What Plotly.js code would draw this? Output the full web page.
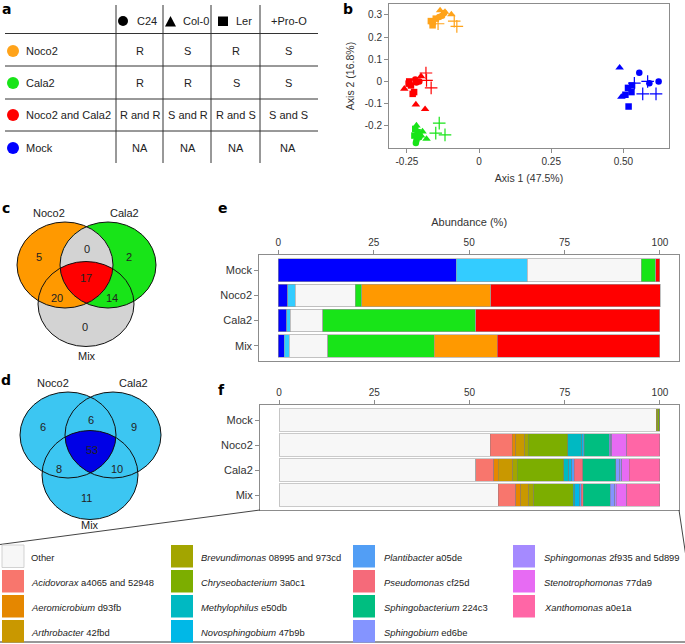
<!DOCTYPE html>
<html><head><meta charset="utf-8">
<script src="https://cdn.plot.ly/plotly-3.0.1.min.js"></script>
<style>body{margin:0;padding:0;background:#fff}#chart{width:685px;height:644px}</style>
</head><body><div id="chart"></div>
<script>
// ===== DATA =====
// Panel a: table
const tableGroups = ["Noco2", "Cala2", "Noco2 and Cala2", "Mock"];
const tableGenotypes = ["C24", "Col-0", "Ler", "+Pro-O"];
const tableCells = [
  ["R", "S", "R", "S"],
  ["R", "R", "S", "S"],
  ["R and R", "S and R", "R and S", "S and S"],
  ["NA", "NA", "NA", "NA"]
];
const groupColors = ["#FFA31A", "#18E418", "#FF0000", "#0000FF"];

// Panel b: PCoA (x = Axis 1, y = Axis 2), per group and genotype
const noco2_C24_x = [-0.138, -0.121, -0.128]; const noco2_C24_y = [0.290, 0.308, 0.296];
const noco2_Col_x = [-0.135, -0.118, -0.096]; const noco2_Col_y = [0.320, 0.313, 0.302];
const noco2_Ler_x = [-0.167, -0.161, -0.150, -0.160]; const noco2_Ler_y = [0.272, 0.253, 0.283, 0.268];
const noco2_Pro_x = [-0.142, -0.086, -0.077]; const noco2_Pro_y = [0.260, 0.272, 0.248];

const mix_C24_x = [-0.221, -0.207, -0.217]; const mix_C24_y = [0.009, 0.000, -0.005];
const mix_Col_x = [-0.259, -0.219, -0.187, -0.201]; const mix_Col_y = [-0.033, -0.104, -0.125, 0.023];
const mix_Ler_x = [-0.242, -0.236, -0.225, -0.230, -0.244]; const mix_Ler_y = [0.000, -0.018, -0.048, -0.056, -0.010];
const mix_Pro_x = [-0.184, -0.182, -0.166]; const mix_Pro_y = [0.038, 0.005, -0.029];

const cala2_C24_x = [-0.217, -0.219, -0.207]; const cala2_C24_y = [-0.266, -0.278, -0.251];
const cala2_Col_x = [-0.217, -0.196, -0.182, -0.201]; const cala2_Col_y = [-0.199, -0.226, -0.259, -0.244];
const cala2_Ler_x = [-0.221, -0.213, -0.207, -0.224]; const cala2_Ler_y = [-0.214, -0.229, -0.239, -0.244];
const cala2_Pro_x = [-0.138, -0.150, -0.118]; const cala2_Pro_y = [-0.188, -0.233, -0.241];

const mock_C24_x = [0.555, 0.622, 0.590]; const mock_C24_y = [0.039, 0.000, -0.008];
const mock_Col_x = [0.487, 0.493, 0.501]; const mock_Col_y = [0.062, -0.070, -0.066];
const mock_Ler_x = [0.518, 0.507, 0.516, 0.530, 0.528]; const mock_Ler_y = [-0.113, -0.060, -0.029, -0.018, -0.048];
const mock_Pro_x = [0.538, 0.584, 0.567, 0.613]; const mock_Pro_y = [-0.008, 0.000, -0.056, -0.056];

// Panels c, d: Venn counts [N only, N&C, C only, N&C&M, N&M, C&M, M only]
const vennSets = ["Noco2", "Cala2", "Mix"];
const cVennCounts = [5, 0, 2, 17, 20, 14, 0];
const dVennCounts = [6, 6, 9, 53, 8, 10, 11];

// Panel e: abundance (%)
const barCategories = ["Mock", "Noco2", "Cala2", "Mix"];
const eBlue = [46.6, 2.4, 2.2, 1.5];
const eLightBlue = [18.6, 2.0, 0.9, 1.3];
const eWhite = [29.9, 15.7, 8.5, 10.2];
const eGreen = [3.8, 1.8, 40.1, 27.8];
const eOrange = [0, 33.7, 0, 16.6];
const eRed = [1.1, 44.5, 48.3, 42.6];
const eColors = ["#0000FF", "#33CCFF", "#F7F7F7", "#18E418", "#FF9900", "#FF0000"];

// Panel f: taxa abundance (%)
const taxaGenus = ["Other", "Acidovorax", "Aeromicrobium", "Arthrobacter", "Brevundimonas", "Chryseobacterium", "Methylophilus", "Novosphingobium", "Plantibacter", "Pseudomonas", "Sphingobacterium", "Sphingobium", "Sphingomonas", "Stenotrophomonas", "Xanthomonas"];
const taxaStrain = ["", "a4065 and 52948", "d93fb", "42fbd", "08995 and 973cd", "3a0c1", "e50db", "47b9b", "a05de", "cf25d", "224c3", "ed6be", "2f935 and 5d899", "77da9", "a0e1a"];
const taxaColors = ["#F7F7F7", "#F8766D", "#E58700", "#C99800", "#A3A500", "#7CAE00", "#00B9C2", "#00B8E7", "#529EF5", "#F56A7A", "#00BE80", "#8494FF", "#A58AFF", "#E76BF3", "#FF66A6"];
const fOther = [99.0, 55.5, 51.7, 57.5];
const fAcidovorax = [0, 5.7, 4.7, 4.6];
const fAeromicrobium = [0, 0.9, 1.1, 1.3];
const fArthrobacter = [0, 2.4, 3.9, 2.2];
const fBrevundimonas = [0.4, 0.9, 1.1, 1.3];
const fChryseobacterium = [0.6, 10.4, 12.2, 10.4];
const fMethylophilus = [0, 3.7, 1.3, 0.3];
const fNovosphingobium = [0, 0.3, 0.9, 1.3];
const fPlantibacter = [0, 0.3, 0.6, 0.4];
const fPseudomonas = [0, 0, 2.2, 0.6];
const fSphingobacterium = [0, 6.6, 8.7, 7.0];
const fSphingobium = [0, 0.4, 1.1, 1.2];
const fSphingomonas = [0, 0.3, 0.5, 0.4];
const fStenotrophomonas = [0, 3.9, 2.0, 2.8];
const fXanthomonas = [0, 8.7, 8.0, 8.7];

// ===== BUILD =====
const W = 685, H = 644;
const FONT = "Liberation Sans, Arial, sans-serif";
const TXT = "#222";
const px = x => x / W;
const py = y => 1 - y / H;
const shapes = [];
const annotations = [];
function ann(text, x, y, o) {
  o = o || {};
  annotations.push({text: text, x: px(x), y: py(y), xref: "paper", yref: "paper", showarrow: false,
    xanchor: o.xa || "center", yanchor: o.ya || "middle",
    font: {family: o.family || FONT, size: o.size || 11, color: o.color || TXT, weight: o.weight || "normal"}});
}
function line(x0, y0, x1, y1, color, width) {
  shapes.push({type: "line", xref: "paper", yref: "paper", x0: px(x0), y0: py(y0), x1: px(x1), y1: py(y1),
    line: {color: color || "#333", width: width || 1}});
}
function ell(cx, cy, rx, ry, fill, lc, lw) {
  shapes.push({type: "circle", xref: "paper", yref: "paper", x0: px(cx - rx), x1: px(cx + rx), y0: py(cy + ry), y1: py(cy - ry),
    fillcolor: fill || "rgba(0,0,0,0)", line: {color: lc || "rgba(0,0,0,0)", width: lw || 0}});
}
function rect(x0, y0, x1, y1, fill, lc, lw) {
  shapes.push({type: "rect", xref: "paper", yref: "paper", x0: px(x0), x1: px(x1), y0: py(y1), y1: py(y0),
    fillcolor: fill, line: {color: lc || "rgba(0,0,0,0)", width: lw || 0}});
}
function pathShape(pts, fill) {
  const d = "M " + pts.map(p => px(p[0]).toFixed(5) + "," + py(p[1]).toFixed(5)).join(" L ") + " Z";
  shapes.push({type: "path", xref: "paper", yref: "paper", path: d, fillcolor: fill, line: {width: 0}});
}

// Panel letters
[["a", 6, 9], ["b", 348, 9], ["c", 6, 208], ["d", 6, 380], ["e", 223, 208], ["f", 221, 390]].forEach(l =>
  ann(l[0], l[1], l[2], {size: 14, weight: "bold", family: "DejaVu Sans, sans-serif", color: "#000"}));

// ---- Panel a table
[33.5, 66, 99, 131].forEach(y => line(5, y, 318, y, "#333", 1));
[116, 163, 211, 260].forEach(x => line(x, 5, x, 163, "#333", 1));
const rowY = [51, 83, 115, 148];
const colX = [139.5, 187.5, 236, 288];
ell(123, 21, 5, 5, "#000");
shapes.push({type: "path", xref: "paper", yref: "paper", path: "M " + px(165) + "," + py(26.5) + " L " + px(176) + "," + py(26.5) + " L " + px(170.5) + "," + py(16) + " Z", fillcolor: "#000", line: {width: 0}});
rect(218, 16.5, 228, 26, "#000");
ann(tableGenotypes[0], 135, 21, {xa: "left"});
ann(tableGenotypes[1], 181, 21, {xa: "left"});
ann(tableGenotypes[2], 234, 21, {xa: "left"});
ann(tableGenotypes[3], 289, 21);
tableGroups.forEach((g, i) => {
  ell(13, rowY[i], 6, 6, groupColors[i]);
  ann(g, 24, rowY[i], {xa: "left"});
  tableCells[i].forEach((c, j) => ann(c, colX[j], rowY[i]));
});

// ---- Venn helpers
function inside(p, e) { const dx = (p[0] - e.cx) / e.rx, dy = (p[1] - e.cy) / e.ry; return dx * dx + dy * dy <= 1 + 1e-9; }
function region(list) {
  const pts = [], N = 720;
  list.forEach((e, i) => {
    for (let k = 0; k < N; k++) {
      const t = 2 * Math.PI * k / N;
      const p = [e.cx + e.rx * Math.cos(t), e.cy + e.ry * Math.sin(t)];
      if (list.every((o, j) => j === i || inside(p, o))) pts.push(p);
    }
  });
  const mx = pts.reduce((s, p) => s + p[0], 0) / pts.length, my = pts.reduce((s, p) => s + p[1], 0) / pts.length;
  pts.sort((a, b) => Math.atan2(a[1] - my, a[0] - mx) - Math.atan2(b[1] - my, b[0] - mx));
  return pts;
}
// ---- Panel c
const cN = {cx: 65, cy: 265, rx: 48, ry: 43}, cC = {cx: 108, cy: 265, rx: 48, ry: 43}, cM = {cx: 86, cy: 304, rx: 48, ry: 42.5};
ell(cM.cx, cM.cy, cM.rx, cM.ry, "#D3D3D3");
ell(cN.cx, cN.cy, cN.rx, cN.ry, "#FF9900");
ell(cC.cx, cC.cy, cC.rx, cC.ry, "#18E418");
pathShape(region([cN, cC]), "#D3D3D3");
pathShape(region([cN, cC, cM]), "#FF0000");
[cN, cC, cM].forEach(e => ell(e.cx, e.cy, e.rx, e.ry, null, "#111", 1));
ann(vennSets[0], 49, 213); ann(vennSets[1], 124, 213); ann(vennSets[2], 87, 356);
const cPos = [[39, 257], [87, 249], [129, 257], [86, 278], [57, 298], [112, 298], [85, 327]];
cVennCounts.forEach((v, i) => ann(String(v), cPos[i][0], cPos[i][1]));

// ---- Panel d
const dN = {cx: 68, cy: 435, rx: 48, ry: 43}, dC = {cx: 113, cy: 435, rx: 48, ry: 43}, dM = {cx: 90, cy: 475, rx: 48, ry: 44.5};
[dN, dC, dM].forEach(e => ell(e.cx, e.cy, e.rx, e.ry, "#3CC6F2"));
pathShape(region([dN, dC, dM]), "#0000E6");
[dN, dC, dM].forEach(e => ell(e.cx, e.cy, e.rx, e.ry, null, "#111", 1));
ann(vennSets[0], 53, 383); ann(vennSets[1], 133, 383); ann(vennSets[2], 90, 525);
const dPos = [[43, 427], [91, 420], [134, 427], [92, 450], [59, 469], [117, 469], [87, 498]];
dVennCounts.forEach((v, i) => ann(String(v), dPos[i][0], dPos[i][1]));

// ---- callout + legend
line(260, 510, 0, 544.5, "#444", 1);
line(679, 510, 699, 644, "#444", 1);
line(0, 642, 685, 642, "#333", 1.2);
const legCols = [[2, 29], [171, 199], [353, 382], [513, 542]];
const legRows = [545, 570, 595, 620];
taxaGenus.forEach((g, i) => {
  const c = Math.floor(i / 4), r = i % 4;
  const sx = legCols[c][0], tx = legCols[c][1], y0 = legRows[r];
  rect(sx, y0, sx + 22, y0 + 22.5, taxaColors[i], i === 0 ? "#c8c8c8" : null, i === 0 ? 0.8 : 0);
  const label = i === 0 ? g : "<i>" + g + "</i> " + taxaStrain[i];
  ann(label, tx, y0 + 12, {xa: "left", size: 9.4});
});

// ---- traces
const traces = [];
const pcoa = [
  [noco2_C24_x, noco2_C24_y, noco2_Col_x, noco2_Col_y, noco2_Ler_x, noco2_Ler_y, noco2_Pro_x, noco2_Pro_y],
  [cala2_C24_x, cala2_C24_y, cala2_Col_x, cala2_Col_y, cala2_Ler_x, cala2_Ler_y, cala2_Pro_x, cala2_Pro_y],
  [mix_C24_x, mix_C24_y, mix_Col_x, mix_Col_y, mix_Ler_x, mix_Ler_y, mix_Pro_x, mix_Pro_y],
  [mock_C24_x, mock_C24_y, mock_Col_x, mock_Col_y, mock_Ler_x, mock_Ler_y, mock_Pro_x, mock_Pro_y]
];
const symbols = ["circle", "triangle-up", "square", "cross-thin-open"];
const sizes = [6.5, 7.5, 6.5, 9];
pcoa.forEach((g, gi) => {
  for (let s = 0; s < 4; s++) {
    traces.push({type: "scatter", mode: "markers", x: g[2 * s], y: g[2 * s + 1], xaxis: "x", yaxis: "y",
      name: tableGroups[gi] + " " + tableGenotypes[s], hoverinfo: "skip",
      marker: {symbol: symbols[s], size: sizes[s], color: groupColors[gi],
        line: {color: groupColors[gi], width: s === 3 ? 1.2 : 0}}});
  }
});
const eSeries = [eBlue, eLightBlue, eWhite, eGreen, eOrange, eRed];
eSeries.forEach((v, i) => traces.push({type: "bar", orientation: "h", x: v, y: barCategories, xaxis: "x2", yaxis: "y2",
  width: 0.9, hoverinfo: "skip", marker: {color: eColors[i], line: {color: "#9a9a9a", width: 0.6}}}));
const fSeries = [fOther, fAcidovorax, fAeromicrobium, fArthrobacter, fBrevundimonas, fChryseobacterium, fMethylophilus, fNovosphingobium, fPlantibacter, fPseudomonas, fSphingobacterium, fSphingobium, fSphingomonas, fStenotrophomonas, fXanthomonas];
fSeries.forEach((v, i) => traces.push({type: "bar", orientation: "h", x: v, y: barCategories, xaxis: "x3", yaxis: "y3",
  width: 0.9, hoverinfo: "skip", name: taxaGenus[i], marker: {color: taxaColors[i], line: {color: "#7a7a7a", width: 0.4}}}));

const axBase = {showgrid: false, zeroline: false, showline: true, mirror: true, linecolor: "#8c8c8c", linewidth: 1,
  ticks: "outside", ticklen: 4, tickcolor: "#8c8c8c", tickfont: {family: FONT, size: 10, color: "#333"}, fixedrange: true};
const layout = {
  width: W, height: H, margin: {l: 0, r: 0, t: 0, b: 0}, showlegend: false, barmode: "stack",
  paper_bgcolor: "#fff", plot_bgcolor: "#fff", font: {family: FONT, color: TXT},
  xaxis: Object.assign({}, axBase, {domain: [px(389), px(669)], range: [-0.312, 0.658], anchor: "y",
    tickvals: [-0.25, 0, 0.25, 0.5], ticktext: ["-0.25", "0", "0.25", "0.50"],
    title: {text: "Axis 1 (47.5%)", font: {family: FONT, size: 10.5, color: "#333"}, standoff: 8}}),
  yaxis: Object.assign({}, axBase, {domain: [py(148), py(4)], range: [-0.3, 0.349], anchor: "x",
    tickvals: [-0.2, -0.1, 0, 0.1, 0.2, 0.3], ticktext: ["-0.2", "-0.1", "0", "0.1", "0.2", "0.3"],
    title: {text: "Axis 2 (16.8%)", font: {family: FONT, size: 10.5, color: "#333"}, standoff: 8}}),
  xaxis2: Object.assign({}, axBase, {domain: [px(259.3), px(679)], range: [-5, 105], anchor: "y2", side: "top",
    tickvals: [0, 25, 50, 75, 100], title: {text: "Abundance (%)", font: {family: FONT, size: 11, color: "#333"}, standoff: 8}}),
  yaxis2: Object.assign({}, axBase, {domain: [py(361), py(255)], type: "category", categoryarray: barCategories,
    range: [3.6, -0.6], anchor: "x2", tickfont: {family: FONT, size: 11, color: "#333"}}),
  xaxis3: Object.assign({}, axBase, {domain: [px(260), px(679)], range: [-5, 105], anchor: "y3", side: "top",
    tickvals: [0, 25, 50, 75, 100]}),
  yaxis3: Object.assign({}, axBase, {domain: [py(510), py(405)], type: "category", categoryarray: barCategories,
    range: [3.6, -0.6], anchor: "x3", tickfont: {family: FONT, size: 11, color: "#333"}}),
  shapes: shapes, annotations: annotations
};
Plotly.newPlot("chart", traces, layout, {staticPlot: true, displayModeBar: false});
</script></body></html>
